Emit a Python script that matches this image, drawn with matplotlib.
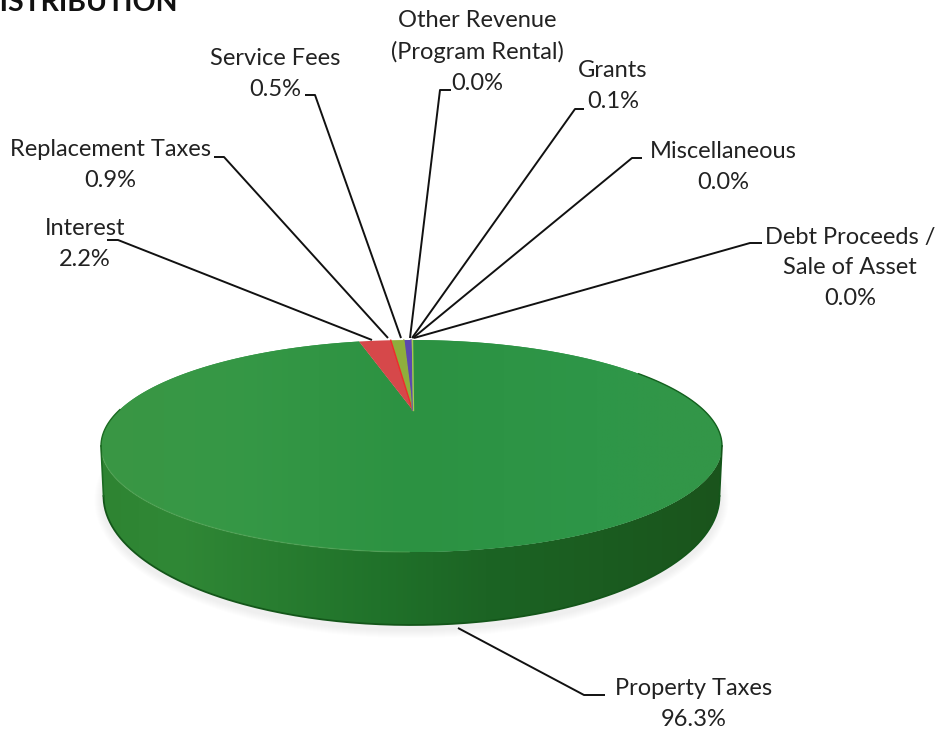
#!/usr/bin/python3
#coding:utf-8

import numpy as np
import matplotlib
matplotlib.use("Agg")
import matplotlib.pyplot as plt
from matplotlib.patches import Polygon, Ellipse

plt.rcParams['font.family'] = ['Lato', 'DejaVu Sans']

# clockwise from the top, percent of revenue
names = ["Property Taxes", "Interest", "Replacement Taxes", "Service Fees",
         "Other Revenue\n(Program Rental)", "Grants", "Miscellaneous", "Debt Proceeds /\nSale of Asset"]
values = [96.3, 2.2, 0.9, 0.5, 0.0, 0.1, 0.0, 0.0]
colors = ["#2f9444", "#d6484a", "#8fae3c", "#5c48b0", "#3a70b0", "#a8c850", "#e08a30", "#4aa0b0"]

# label text centre, then the leader line from the label to the pie
label_pos = [(694, 704), (85, 244), (110, 165), (275, 74), (477, 52), (613, 86), (723, 167), (850, 268)]
leaders = [[(605, 695), (584, 695), (458, 628)],
           [(107, 240), (118, 240), (372, 340)],
           [(214, 157), (224, 157), (388, 338)],
           [(305, 95), (315, 95), (401, 338)],
           [(451, 90), (440, 90), (410, 338)],
           [(584, 109), (575, 109), (412, 338)],
           [(642, 158), (632, 158), (413, 338)],
           [(762, 243), (750, 243), (414, 338)]]

cx, cy, a, b = 411.5, 446, 310.5, 106
apex = (412.5, 410)
k = 3.3
cy2, a2, b2 = 496, 308, 129


def rim_point(theta):
    # ray from the apex to the top ellipse, theta clockwise from the top
    dx, dy = k * np.sin(theta), -np.cos(theta)
    px, py = (apex[0] - cx) / a, (apex[1] - cy) / b
    qx, qy = dx / a, dy / b
    A = qx * qx + qy * qy
    B = 2 * (px * qx + py * qy)
    C = px * px + py * py - 1
    t = (-B + np.sqrt(B * B - 4 * A * C)) / (2 * A)
    return apex[0] + t * dx, apex[1] + t * dy


fig = plt.figure(figsize=(9.4, 7.34), dpi=100)
ax = fig.add_axes([0, 0, 1, 1])
ax.set_xlim(0, 940)
ax.set_ylim(734, 0)
ax.axis("off")

# soft shadow
for i in range(8):
    ax.add_patch(Ellipse((cx, cy2 + 4), 2 * a2 + 18 - 2 * i, 2 * b2 + 18 - 2 * i,
                         color="#8a8a9a", alpha=0.015, lw=0, zorder=1))

# side of the disc
t = np.linspace(0, np.pi, 200)
ex, ey = cx + a * np.cos(t), cy + b * np.sin(t)
bx, by = cx + a2 * np.cos(t), cy2 + b2 * np.sin(t)
side = Polygon(np.r_[np.c_[bx, by], np.c_[ex[::-1], ey[::-1]]], closed=True,
               fc="none", ec="none", zorder=2)
ax.add_patch(side)
sx = np.linspace(0, 1, 256)
rgb = np.zeros((1, 256, 3))
rgb[0, :, 0] = np.interp(sx, [0, 0.12, 0.45, 0.62, 1], [46, 48, 32, 28, 26]) / 255
rgb[0, :, 1] = np.interp(sx, [0, 0.12, 0.45, 0.62, 1], [132, 136, 114, 100, 84]) / 255
rgb[0, :, 2] = np.interp(sx, [0, 0.12, 0.45, 0.62, 1], [50, 54, 42, 36, 28]) / 255
im = ax.imshow(rgb, extent=(cx - a, cx + a, cy2 + b2, cy - 10), aspect="auto", zorder=2,
               interpolation="bilinear")
im.set_clip_path(side)
ax.plot(bx, by, color="#14561a", lw=1.3, zorder=3)

# top of the disc, one wedge per value
cum = np.cumsum(values) / 100.0
starts = np.r_[0, cum[:-1]]
for i, v in enumerate(values):
    if v == 0:
        continue
    th = np.linspace(starts[i], cum[i], 400) * 2 * np.pi
    pts = [rim_point(x) for x in th]
    wedge = Polygon([apex] + pts, closed=True, fc=colors[i], ec="none", zorder=4)
    ax.add_patch(wedge)
    if i == 0:
        grid = np.linspace(0, 1, 256)
        top = np.zeros((1, 256, 3))
        top[0, :, 0] = np.interp(grid, [0, 0.2, 0.5, 0.8, 1], [58, 54, 44, 46, 52]) / 255
        top[0, :, 1] = np.interp(grid, [0, 0.2, 0.5, 0.8, 1], [150, 152, 146, 150, 150]) / 255
        top[0, :, 2] = np.interp(grid, [0, 0.2, 0.5, 0.8, 1], [68, 70, 66, 72, 72]) / 255
        im2 = ax.imshow(top, extent=(cx - a, cx + a, cy + b, cy - b), aspect="auto", zorder=4,
                        interpolation="bilinear")
        im2.set_clip_path(wedge)
    else:
        ax.plot([apex[0], pts[-1][0]], [apex[1], pts[-1][1]], color="#ee2a2a" if i == 1 else colors[i],
                lw=1.0, zorder=5)

# light rim on the left, dark edge at both ends
ax.plot(ex[t > np.pi / 2], ey[t > np.pi / 2], color="#66ad62", lw=1.0, alpha=0.4, zorder=5)
ax.plot([cx + a, cx + a2], [cy, cy2], color="#14561a", lw=1.2, zorder=5)
ax.plot([cx - a, cx - a2], [cy, cy2], color="#1c6b22", lw=1.2, zorder=5)
t2 = np.linspace(-0.75, 0, 60)
ax.plot(cx + a * np.cos(t2), cy + b * np.sin(t2), color="#14611f", lw=1.0, zorder=5)
t3 = np.linspace(np.pi, np.pi + 0.35, 30)
ax.plot(cx + a * np.cos(t3), cy + b * np.sin(t3), color="#1c6b22", lw=1.0, zorder=5)

# labels and leaders
for i, name in enumerate(names):
    pts = np.array(leaders[i])
    ax.plot(pts[:, 0], pts[:, 1], color="#111111", lw=1.4, zorder=6, solid_capstyle="butt")
    ax.text(label_pos[i][0], label_pos[i][1], "%s\n%.1f%%" % (name, values[i]), ha="center", va="center",
            fontsize=17, color="#222222", linespacing=1.55, zorder=7)

ax.set_xlim(0, 940)
ax.set_ylim(734, 0)

ax.text(178, 11, "DISTRIBUTION", ha="right", va="baseline", fontsize=20.5, fontweight="bold", color="#111111")

fig.savefig("out.png", dpi=100)
